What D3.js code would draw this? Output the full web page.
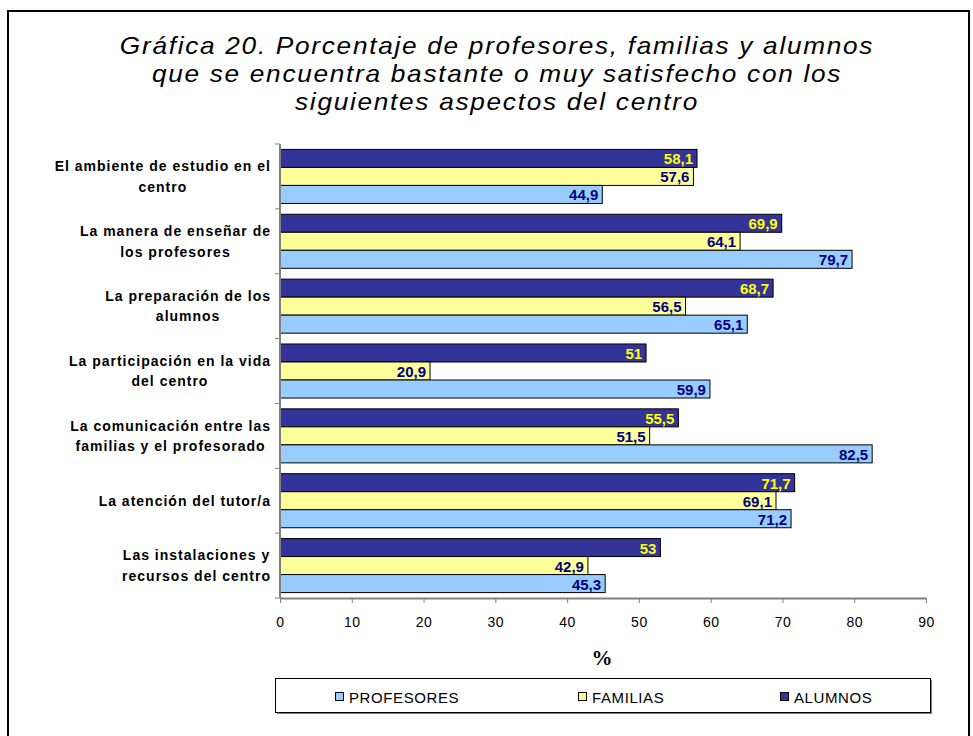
<!DOCTYPE html>
<html>
<head>
<meta charset="utf-8">
<script src="https://cdn.jsdelivr.net/npm/d3@7"></script>
<style>
  body { margin: 0; background: #fff; }
  svg { display: block; }
</style>
</head>
<body>
<div id="chart"></div>
<script>
// Data
const categories = [
  ["El ambiente de estudio en el", "centro"],
  ["La manera de enseñar de", "los profesores"],
  ["La preparación de los", "alumnos"],
  ["La participación en la vida", "del centro"],
  ["La comunicación entre las", "familias y el profesorado"],
  ["La atención del tutor/a"],
  ["Las instalaciones y", "recursos del centro"]
];
const series = ["ALUMNOS", "FAMILIAS", "PROFESORES"];
const alumnos    = [58.1, 69.9, 68.7, 51,   55.5, 71.7, 53];
const familias   = [57.6, 64.1, 56.5, 20.9, 51.5, 69.1, 42.9];
const profesores = [44.9, 79.7, 65.1, 59.9, 82.5, 71.2, 45.3];
const legendOrder = ["PROFESORES", "FAMILIAS", "ALUMNOS"];
const xTicks = [0, 10, 20, 30, 40, 50, 60, 70, 80, 90];
const titleLines = [
  "Gráfica 20. Porcentaje de profesores, familias y alumnos",
  "que se encuentra bastante o muy satisfecho con los",
  "siguientes aspectos del centro"
];

const values = {ALUMNOS: alumnos, FAMILIAS: familias, PROFESORES: profesores};
const fill = {PROFESORES: "#99CCFF", FAMILIAS: "#FFFF99", ALUMNOS: "#333399"};
const labelColor = {PROFESORES: "#000080", FAMILIAS: "#000080", ALUMNOS: "#FFFF00"};

const SANS = "'Liberation Sans', Arial, sans-serif";
const W = 973, H = 736;
const plot = {left: 280, right: 926, top: 144, bottom: 598};

const svg = d3.select("#chart")
  .append("svg")
    .attr("width", W)
    .attr("height", H);

svg.append("rect")
  .attr("width", W).attr("height", H).attr("fill", "#fff");

// outer frame
svg.append("rect")
  .attr("x", 8).attr("y", 11)
  .attr("width", 961).attr("height", 800)
  .attr("fill", "none")
  .attr("stroke", "#000")
  .attr("stroke-width", 2);

// title (wide italic, stretched a bit horizontally like the original)
svg.append("g")
  .attr("transform", "translate(497,0) scale(1.14,1)")
  .selectAll("text")
  .data(titleLines)
  .enter()
  .append("text")
    .attr("x", 0)
    .attr("y", (d, i) => 54 + i * 28)
    .attr("text-anchor", "middle")
    .style("font-family", SANS)
    .style("font-style", "italic")
    .style("font-size", "23px")
    .style("letter-spacing", "1.5px")
    .text(d => d);

// scales
const idx = d3.range(categories.length);
const x = d3.scaleLinear().domain([0, 90]).range([plot.left, plot.right]);
const y = d3.scaleBand().domain(idx).range([plot.top, plot.bottom]).padding(0);
const ySub = d3.scaleBand().domain(series).range([0, y.bandwidth()])
  .paddingInner(0).paddingOuter(0.3);

const fmt = v => String(v).replace(".", ",");

// bars
const groups = svg.append("g")
  .selectAll("g")
  .data(idx)
  .enter()
  .append("g")
    .attr("transform", i => `translate(0,${y(i)})`);

groups.selectAll("rect")
  .data(i => series.map(s => ({s, v: values[s][i]})))
  .enter()
  .append("rect")
    .attr("x", x(0))
    .attr("y", d => ySub(d.s))
    .attr("width", d => x(d.v) - x(0))
    .attr("height", ySub.bandwidth())
    .attr("fill", d => fill[d.s])
    .attr("stroke", "#000")
    .attr("stroke-width", 1);

groups.selectAll("text")
  .data(i => series.map(s => ({s, v: values[s][i]})))
  .enter()
  .append("text")
    .attr("x", d => x(d.v) - 4)
    .attr("y", d => ySub(d.s) + ySub.bandwidth() / 2 + 6)
    .attr("text-anchor", "end")
    .style("font-family", SANS)
    .style("font-weight", "bold")
    .style("font-size", "15px")
    .attr("fill", d => labelColor[d.s])
    .text(d => fmt(d.v));

// x axis
const xAxis = svg.append("g")
  .attr("transform", `translate(0,${plot.bottom})`)
  .call(d3.axisBottom(x).tickValues(xTicks).tickSize(5).tickPadding(14).tickSizeOuter(0));
xAxis.select(".domain").attr("stroke", "#808080").attr("stroke-width", 2);
xAxis.selectAll(".tick line").attr("stroke", "#808080");
xAxis.selectAll("text")
  .style("font-family", SANS)
  .style("font-size", "14px")
  .style("letter-spacing", "0.5px")
  .attr("fill", "#000");

// y axis: line plus ticks at category boundaries
const yAxis = svg.append("g");
yAxis.append("line")
  .attr("x1", plot.left).attr("x2", plot.left)
  .attr("y1", plot.top).attr("y2", plot.bottom)
  .attr("stroke", "#808080").attr("stroke-width", 2);
yAxis.selectAll(".bound")
  .data(d3.range(categories.length + 1))
  .enter()
  .append("line")
    .attr("x1", plot.left - 5).attr("x2", plot.left)
    .attr("y1", i => plot.top + i * y.step())
    .attr("y2", i => plot.top + i * y.step())
    .attr("stroke", "#808080");

// category labels: block right aligned, lines centered in block
const catG = svg.append("g");
categories.forEach((lines, i) => {
  const g = catG.append("g");
  const lh = 20.5;
  const cy = y(i) + y.bandwidth() / 2;
  const texts = g.selectAll("text")
    .data(lines)
    .enter()
    .append("text")
      .attr("y", (d, k) => cy + (k - (lines.length - 1) / 2) * lh + 5)
      .attr("text-anchor", "middle")
      .style("font-family", SANS)
      .style("font-weight", "bold")
      .style("font-size", "14px")
      .style("letter-spacing", "1px")
      .text(d => d);
  let w = 0;
  texts.each(function() { w = Math.max(w, this.getComputedTextLength()); });
  texts.attr("x", 271 - w / 2);
});

// axis title
svg.append("text")
  .attr("x", 602).attr("y", 665)
  .attr("text-anchor", "middle")
  .style("font-family", "'Liberation Serif', 'Times New Roman', serif")
  .style("font-weight", "bold")
  .style("font-size", "21px")
  .text("%");

// legend
const legend = svg.append("g");
legend.append("rect")
  .attr("x", 277).attr("y", 680).attr("width", 655).attr("height", 34)
  .attr("fill", "#808080");
legend.append("rect")
  .attr("x", 275.5).attr("y", 678.5).attr("width", 655).attr("height", 34)
  .attr("fill", "#fff").attr("stroke", "#000");
const legendX = [335, 578, 780];
const items = legend.selectAll(".item")
  .data(legendOrder)
  .enter()
  .append("g")
    .attr("transform", (d, i) => `translate(${legendX[i]},697)`);
items.append("rect")
  .attr("x", 0.5).attr("y", -4.5)
  .attr("width", 8).attr("height", 8)
  .attr("fill", d => fill[d])
  .attr("stroke", "#000");
items.append("text")
  .attr("x", 14).attr("y", 5.5)
  .style("font-family", SANS)
  .style("font-size", "15px")
  .style("letter-spacing", "0.6px")
  .text(d => d);
</script>
</body>
</html>
